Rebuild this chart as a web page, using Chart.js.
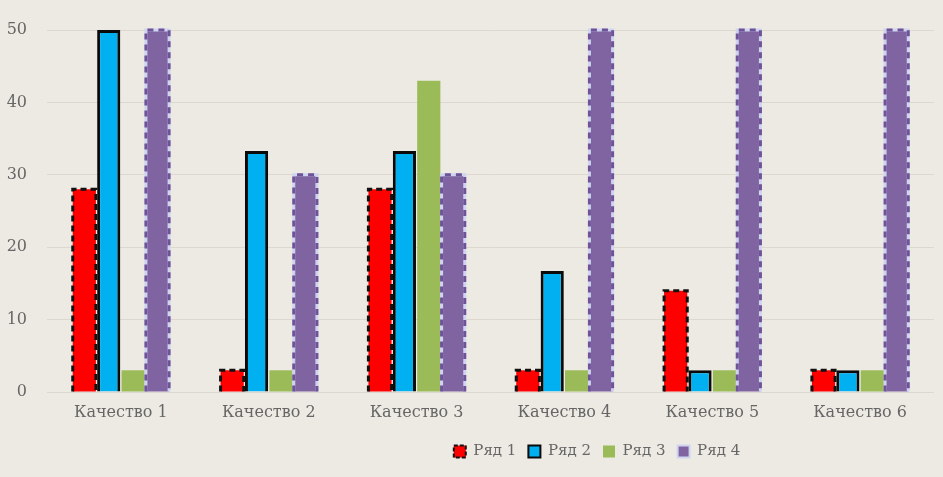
<!DOCTYPE html>
<html lang="ru">
<head>
<meta charset="utf-8">
<script src="https://cdn.jsdelivr.net/npm/chart.js@4/dist/chart.umd.min.js"></script>
<style>
  html, body { margin: 0; padding: 0; background: #edeae3; }
  .wrap { width: 943px; height: 477px; }
</style>
</head>
<body>
<div class="wrap"><canvas id="myChart" width="943" height="477"></canvas></div>
<script>
// Данные диаграммы
const categories = ['Качество 1', 'Качество 2', 'Качество 3', 'Качество 4', 'Качество 5', 'Качество 6'];
const seriesNames = ['Ряд 1', 'Ряд 2', 'Ряд 3', 'Ряд 4'];
const row1 = [28, 3, 28, 3, 14, 3];
const row2 = [50, 33.3, 33.3, 16.7, 3, 3];
const row3 = [3, 3, 43, 3, 3, 3];
const row4 = [50, 30, 30, 50, 50, 50];
const yTicks = [0, 10, 20, 30, 40, 50];

const textColor = '#666666';
const serif = "'DejaVu Serif', 'Liberation Serif', serif";

/**
 * Пунктирные рамки столбцов (Chart.js не умеет borderDash у bar)
 */
const dashedBars = {
  id: 'dashedBars',
  afterDatasetsDraw(chart) {
    const ctx = chart.ctx;
    chart.data.datasets.forEach((ds, i) => {
      if (!ds.dash) return;
      const meta = chart.getDatasetMeta(i);
      meta.data.forEach(bar => {
        const p = bar.getProps(['x', 'y', 'base', 'width'], true);
        const l = p.x - p.width / 2, r = p.x + p.width / 2;
        ctx.save();
        ctx.beginPath();
        ctx.moveTo(l, p.base);
        ctx.lineTo(l, p.y);
        ctx.lineTo(r, p.y);
        ctx.lineTo(r, p.base);
        if (ds.dash.under) {
          ctx.strokeStyle = ds.dash.under;
          ctx.lineWidth = 3;
          ctx.setLineDash([]);
          ctx.stroke();
        }
        ctx.strokeStyle = ds.dash.color;
        ctx.lineWidth = ds.dash.width;
        ctx.setLineDash(ds.dash.pattern);
        ctx.stroke();
        ctx.restore();
      });
    });
  }
};

// сдвиг легенды вправо, как в оригинале
const legendShift = {
  id: 'legendShift',
  afterLayout(chart) {
    chart.legend.left += 130;
    chart.legend.right += 130;
  }
};

const ctx = document.getElementById('myChart');
new Chart(ctx, {
  type: 'bar',
  data: {
    labels: categories,
    datasets: [
      {
        label: seriesNames[0],
        data: row1,
        backgroundColor: '#ff0000',
        borderWidth: 0,
        dash: { color: '#111111', width: 3, pattern: [6, 4] },
        legendStroke: '#111111', legendDash: [4, 2]
      },
      {
        label: seriesNames[1],
        data: row2,
        backgroundColor: '#00b0f0',
        borderColor: '#0a0a0a',
        borderWidth: 3,
        legendStroke: '#0a0a0a', legendDash: []
      },
      {
        label: seriesNames[2],
        data: row3,
        backgroundColor: '#9bbb59',
        borderWidth: 0
      },
      {
        label: seriesNames[3],
        data: row4,
        backgroundColor: '#8064a2',
        borderWidth: 0,
        dash: { color: '#6e5398', under: '#cfd4ef', width: 3, pattern: [6, 5] },
        legendStroke: '#cfd4ef', legendDash: []
      }
    ]
  },
  options: {
    responsive: false,
    animation: false,
    categoryPercentage: 0.66,
    barPercentage: 0.95,
    layout: { padding: { top: 30, right: 9, bottom: 8 } },
    plugins: {
      tooltip: { enabled: false },
      legend: {
        position: 'bottom',
        labels: {
          color: textColor,
          font: { family: serif, size: 15 },
          boxWidth: 12,
          boxHeight: 12,
          padding: 12,
          generateLabels(chart) {
            return chart.data.datasets.map((ds, i) => ({
              text: ds.label,
              fillStyle: ds.backgroundColor,
              strokeStyle: ds.legendStroke || ds.backgroundColor,
              lineWidth: ds.legendStroke ? 2 : 0,
              lineDash: ds.legendDash || [],
              fontColor: textColor,
              datasetIndex: i
            }));
          }
        }
      }
    },
    scales: {
      x: {
        grid: { display: false, drawTicks: false },
        border: { display: false },
        ticks: { color: textColor, font: { family: serif, size: 16 }, padding: 11 },
        afterFit(scale) { scale.height = 40; }
      },
      y: {
        min: 0,
        max: 50,
        afterBuildTicks(scale) { scale.ticks = yTicks.map(v => ({ value: v })); },
        grid: { color: '#dcd8cf', drawTicks: false },
        border: { display: false },
        ticks: { color: textColor, font: { family: serif, size: 16 }, padding: 20 },
        afterFit(scale) { scale.width = 47; }
      }
    }
  },
  plugins: [dashedBars, legendShift]
});
</script>
</body>
</html>
